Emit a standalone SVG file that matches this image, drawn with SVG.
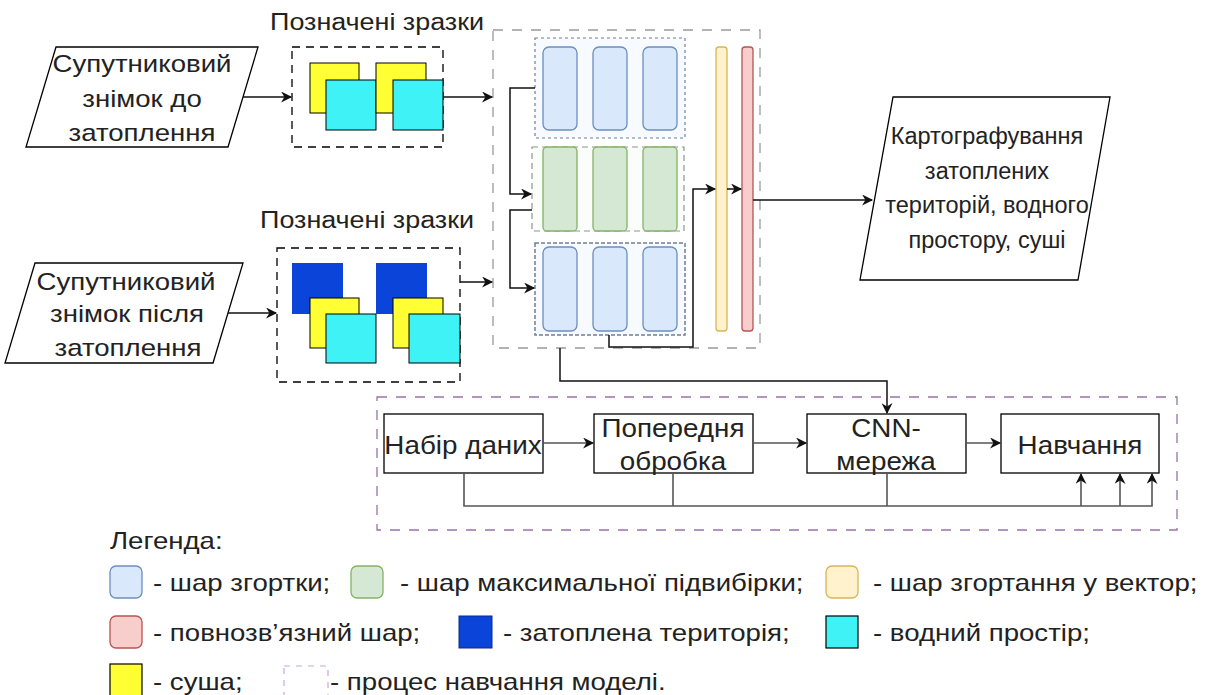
<svg xmlns="http://www.w3.org/2000/svg" width="1210" height="695" viewBox="0 0 1210 695">
  <style>
    text { font-family: "Liberation Sans", Arial, sans-serif; fill: #222; }
    .lbl { font-size: 24px; text-anchor: middle; }
    .out { font-size: 23.5px; text-anchor: middle; }
    .ttl { font-size: 23px; text-anchor: middle; }
    .box-lbl { font-size: 26px; text-anchor: middle; }
    .leg { font-size: 23px; }
    .shape { fill: #fff; stroke: #000; stroke-width: 1.3; }
    .grp { fill: none; stroke: #000; stroke-width: 1.3; stroke-dasharray: 8 6; }
    .sq-y { fill: #ffff33; stroke: #000; stroke-width: 1; }
    .sq-c { fill: #3ff2f5; stroke: #000; stroke-width: 1; }
    .sq-b { fill: #0b44d8; stroke: none; }
    .conv { fill: #dae8fc; stroke: #6c8ebf; stroke-width: 1.3; }
    .pool { fill: #d5e8d4; stroke: #82b366; stroke-width: 1.3; }
    .flat { fill: #fff2cc; stroke: #d6b656; stroke-width: 1.3; }
    .fc { fill: #f8cecc; stroke: #b85450; stroke-width: 1.3; }
    .wire { fill: none; stroke: #111; stroke-width: 1.5; }
    .wire-g { fill: none; stroke: #555; stroke-width: 1.6; }
    .model { fill: none; stroke: #9673a6; stroke-width: 1.3; stroke-dasharray: 10 9; }
  </style>
  <defs>
    <marker id="arr" viewBox="0 0 10 10" refX="9" refY="5" markerWidth="12" markerHeight="11" markerUnits="userSpaceOnUse" orient="auto">
      <path d="M0,0 L10,5 L0,10 L3,5 Z" fill="#111"/>
    </marker>
  </defs>

  <!-- input image: before flood -->
  <g id="img-before">
    <polygon class="shape" points="56,47 258,47 228,147 26,147"/>
    <text class="lbl" transform="translate(142,72) scale(1.15,1)">Супутниковий</text>
    <text class="lbl" transform="translate(142,107) scale(1.15,1)">знімок до</text>
    <text class="lbl" transform="translate(142,141) scale(1.15,1)">затоплення</text>
  </g>

  <!-- input image: after flood -->
  <g id="img-after">
    <polygon class="shape" points="35,263 243,263 213,363 5,363"/>
    <text class="lbl" transform="translate(126,290) scale(1.15,1)">Супутниковий</text>
    <text class="lbl" transform="translate(127,322) scale(1.15,1)">знімок після</text>
    <text class="lbl" transform="translate(128,356) scale(1.15,1)">затоплення</text>
  </g>

  <!-- labelled samples, before -->
  <g id="samples-before">
    <text class="ttl" transform="translate(377,30) scale(1.17,1)">Позначені зразки</text>
    <rect class="grp" x="292" y="47" width="151" height="100"/>
    <rect class="sq-y" x="310" y="63" width="49" height="50"/>
    <rect class="sq-c" x="326" y="80" width="50" height="50"/>
    <rect class="sq-y" x="376" y="63" width="50" height="50"/>
    <rect class="sq-c" x="393" y="80" width="50" height="50"/>
  </g>

  <!-- labelled samples, after -->
  <g id="samples-after">
    <text class="ttl" transform="translate(367,228) scale(1.17,1)">Позначені зразки</text>
    <rect class="grp" x="277" y="248" width="183" height="134"/>
    <rect class="sq-b" x="292" y="263" width="51" height="51"/>
    <rect class="sq-y" x="310" y="298" width="49" height="50"/>
    <rect class="sq-c" x="326" y="314" width="50" height="49"/>
    <rect class="sq-b" x="376" y="263" width="51" height="51"/>
    <rect class="sq-y" x="393" y="298" width="50" height="50"/>
    <rect class="sq-c" x="409" y="314" width="51" height="49"/>
  </g>

  <!-- CNN architecture -->
  <g id="cnn">
    <rect x="493" y="30" width="267" height="318" fill="none" stroke="#9a9a9a" stroke-width="1.3" stroke-dasharray="10 9"/>
    <g id="conv-block-1">
      <rect x="535" y="38" width="150" height="100" fill="#f7fbff" stroke="#6f7f98" stroke-width="1.2" stroke-dasharray="3 3"/>
      <rect class="conv" x="543" y="47" width="34" height="83" rx="6"/>
      <rect class="conv" x="593" y="47" width="34" height="83" rx="6"/>
      <rect class="conv" x="643" y="47" width="34" height="83" rx="6"/>
    </g>
    <g id="pool-block">
      <rect x="532" y="147" width="152" height="84" fill="#fbfdfb" stroke="#8c968c" stroke-width="1.2" stroke-dasharray="6 4"/>
      <rect class="pool" x="543" y="147" width="34" height="84" rx="4"/>
      <rect class="pool" x="593" y="147" width="34" height="84" rx="4"/>
      <rect class="pool" x="643" y="147" width="34" height="84" rx="4"/>
    </g>
    <g id="conv-block-2">
      <rect x="535" y="243" width="150" height="92" fill="#f7fbff" stroke="#6f7f98" stroke-width="1.5" stroke-dasharray="4 2"/>
      <rect class="conv" x="543" y="247" width="34" height="84" rx="6"/>
      <rect class="conv" x="593" y="247" width="34" height="84" rx="6"/>
      <rect class="conv" x="643" y="247" width="34" height="84" rx="6"/>
    </g>
    <rect id="flatten" class="flat" x="716" y="47" width="11" height="284" rx="3"/>
    <rect id="dense" class="fc" x="742" y="47" width="11" height="284" rx="3"/>
  </g>

  <!-- output map -->
  <g id="output">
    <polygon class="shape" points="893,97 1110,97 1078,280 860,280"/>
    <text class="out" x="987" y="144">Картографування</text>
    <text class="out" x="987" y="179">затоплених</text>
    <text class="out" x="987" y="213">територій, водного</text>
    <text class="out" x="987" y="248">простору, суші</text>
  </g>

  <!-- model training process -->
  <g id="training">
    <rect class="model" x="377" y="397" width="800" height="133"/>
    <g id="dataset">
      <rect class="shape" x="384" y="414" width="159" height="59"/>
      <text class="box-lbl" transform="translate(463,454) scale(1.07,1)">Набір даних</text>
    </g>
    <g id="preprocess">
      <rect class="shape" x="594" y="414" width="159" height="59"/>
      <text class="box-lbl" transform="translate(673,437) scale(1.07,1)">Попередня</text>
      <text class="box-lbl" transform="translate(673,470) scale(1.07,1)">обробка</text>
    </g>
    <g id="cnn-net">
      <rect class="shape" x="807" y="414" width="159" height="59"/>
      <text class="box-lbl" transform="translate(886,437) scale(1.07,1)">CNN-</text>
      <text class="box-lbl" transform="translate(886,470) scale(1.07,1)">мережа</text>
    </g>
    <g id="train">
      <rect class="shape" x="1001" y="414" width="158" height="59"/>
      <text class="box-lbl" transform="translate(1080,454) scale(1.07,1)">Навчання</text>
    </g>
  </g>

  <!-- connectors -->
  <g id="connectors">
    <line class="wire" x1="243" y1="97" x2="291" y2="97" marker-end="url(#arr)"/>
    <line class="wire" x1="228" y1="313" x2="276" y2="313" marker-end="url(#arr)"/>
    <line class="wire" x1="443" y1="97" x2="492" y2="97" marker-end="url(#arr)"/>
    <line class="wire" x1="460" y1="282" x2="492" y2="282" marker-end="url(#arr)"/>
    <polyline class="wire" points="535,88 510,88 510,194 531,194" marker-end="url(#arr)"/>
    <polyline class="wire" points="532,210 510,210 510,288 534,288" marker-end="url(#arr)"/>
    <polyline class="wire" points="609,335 609,347 693,347 693,189 715,189" marker-end="url(#arr)"/>
    <line class="wire" x1="727" y1="189" x2="741" y2="189" marker-end="url(#arr)"/>
    <line class="wire" x1="753" y1="200" x2="872" y2="200" marker-end="url(#arr)"/>
    <polyline class="wire" points="560,348 560,381 887,381 887,413" marker-end="url(#arr)"/>
    <line class="wire-g" x1="543" y1="443" x2="593" y2="443" marker-end="url(#arr)"/>
    <line class="wire-g" x1="753" y1="443" x2="806" y2="443" marker-end="url(#arr)"/>
    <line class="wire-g" x1="966" y1="443" x2="1000" y2="443" marker-end="url(#arr)"/>
    <polyline class="wire-g" points="464,473 464,506 1152,506 1152,474" marker-end="url(#arr)"/>
    <line class="wire-g" x1="673" y1="473" x2="673" y2="506"/>
    <line class="wire-g" x1="887" y1="473" x2="887" y2="506"/>
    <line class="wire-g" x1="1081" y1="506" x2="1081" y2="474" marker-end="url(#arr)"/>
    <line class="wire-g" x1="1120" y1="506" x2="1120" y2="474" marker-end="url(#arr)"/>
  </g>

  <!-- legend -->
  <g id="legend">
    <text class="leg" transform="translate(110,549) scale(1.2,1)">Легенда:</text>
    <rect class="conv" x="110" y="566" width="32" height="32" rx="6"/>
    <text class="leg" transform="translate(153,591) scale(1.2,1)">- шар згортки;</text>
    <rect class="pool" x="351" y="566" width="32" height="32" rx="6"/>
    <text class="leg" transform="translate(400,591) scale(1.2,1)">- шар максимальної підвибірки;</text>
    <rect class="flat" x="826" y="566" width="32" height="32" rx="6"/>
    <text class="leg" transform="translate(873,591) scale(1.2,1)">- шар згортання у вектор;</text>

    <rect class="fc" x="110" y="616" width="32" height="32" rx="6"/>
    <text class="leg" transform="translate(153,641) scale(1.2,1)">- повнозв’язний шар;</text>
    <rect x="459" y="616" width="33" height="32" fill="#0b44d8" stroke="#0a2a8a" stroke-width="1"/>
    <text class="leg" transform="translate(503,641) scale(1.2,1)">- затоплена територія;</text>
    <rect x="826" y="616" width="32" height="32" fill="#3ff2f5" stroke="#000" stroke-width="1.2"/>
    <text class="leg" transform="translate(873,641) scale(1.2,1)">- водний простір;</text>

    <rect x="110" y="664" width="32" height="32" fill="#ffff33" stroke="#000" stroke-width="1.2"/>
    <text class="leg" transform="translate(153,690) scale(1.2,1)">- суша;</text>
    <rect x="284" y="666" width="44" height="32" fill="none" stroke="#c9a8d8" stroke-width="1.2" stroke-dasharray="6 6"/>
    <text class="leg" transform="translate(330,690) scale(1.2,1)">- процес навчання моделі.</text>
  </g>
</svg>
